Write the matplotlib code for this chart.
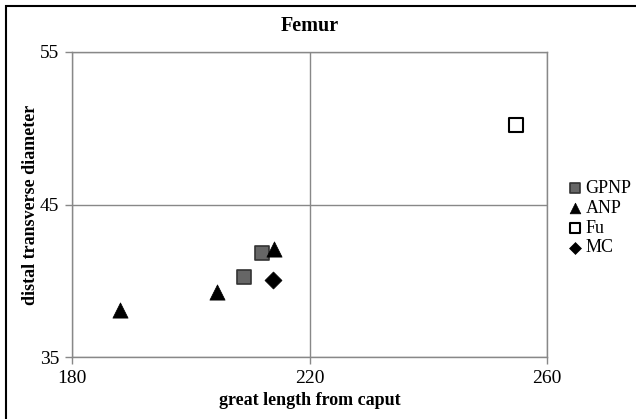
import matplotlib
matplotlib.use("Agg")
import matplotlib.pyplot as plt
from matplotlib.patches import Rectangle

plt.rcParams['font.family'] = ['Liberation Serif', 'DejaVu Serif']

# Femur measurements (great length from caput, distal transverse diameter)
gpnp_x = [209.0, 212.0]
gpnp_y = [40.25, 41.8]
anp_x = [188.0, 204.4, 214.0]
anp_y = [38.1, 39.25, 42.1]
fu_x = [254.8]
fu_y = [50.2]
mc_x = [213.9]
mc_y = [40.05]

x_ticks = [180, 220, 260]
y_ticks = [35, 45, 55]

W, H = 636, 419
fig = plt.figure(figsize=(W / 100, H / 100), dpi=100)
ax = fig.add_axes([72 / W, 1 - 357 / H, (547 - 72) / W, (357 - 52) / H])

ax.scatter(gpnp_x, gpnp_y, marker='s', s=95, facecolor='#666666',
           edgecolor='#333333', linewidths=1.2, label='GPNP', zorder=3)
ax.scatter(anp_x, anp_y, marker='^', s=120, facecolor='black',
           edgecolor='black', linewidths=0.5, label='ANP', zorder=3)
ax.scatter(fu_x, fu_y, marker='s', s=95, facecolor='white',
           edgecolor='black', linewidths=1.5, label='Fu', zorder=3)
ax.scatter(mc_x, mc_y, marker='D', s=75, facecolor='black',
           edgecolor='black', linewidths=0.5, label='MC', zorder=3)

ax.set_xlim(x_ticks[0], x_ticks[-1])
ax.set_ylim(y_ticks[0], y_ticks[-1])
ax.set_xticks(x_ticks)
ax.set_yticks(y_ticks)
ax.grid(True, color='#888888', linewidth=1)
ax.set_axisbelow(True)
for sp in ax.spines.values():
    sp.set_color('#888888')
    sp.set_linewidth(1)
ax.tick_params(direction='out', length=5, width=1, color='#888888',
               labelsize=14, pad=4)

ax.set_title('Femur', fontsize=14.5, fontweight='bold', pad=15)
ax.set_xlabel('great length from caput', fontsize=13, fontweight='bold',
              labelpad=4)
ax.set_ylabel('distal transverse diameter', fontsize=13, fontweight='bold',
              labelpad=1)

leg = ax.legend(loc='center left', bbox_to_anchor=(1.02, 0.455), frameon=False,
                fontsize=13, handletextpad=0.0, labelspacing=0.15,
                markerscale=0.7, borderaxespad=0.0, handlelength=1.2)

# outer chart frame
fig.patches.append(Rectangle((6 / W, -0.1), 1.2, 1 - 6 / H + 0.1,
                             transform=fig.transFigure, fill=False,
                             edgecolor='black', linewidth=1.5))

fig.savefig('out.png', dpi=100)
